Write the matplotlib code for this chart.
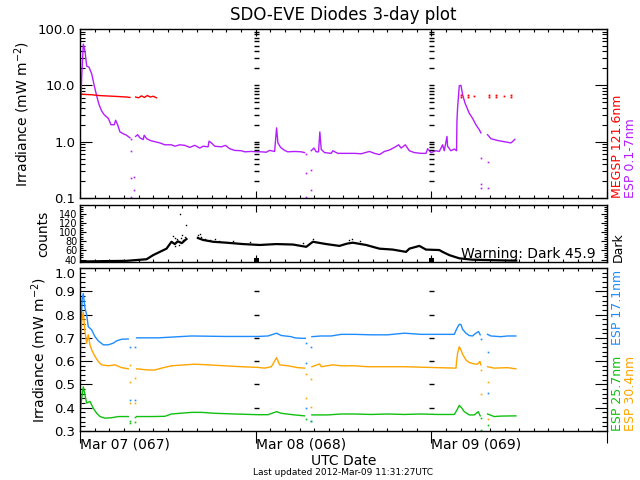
import numpy as np
import matplotlib
matplotlib.use('Agg')
import matplotlib.pyplot as plt
from matplotlib.ticker import FixedLocator, MultipleLocator, FuncFormatter, NullFormatter

nan = np.nan

# ---------------- data (time in hours since 2012-03-07 00:00 UTC) ----------------
# ESP 0.1-7nm (purple)
xr_t = [0, 0.23, 0.45, 0.68, 0.91, 1.23, 1.6, 1.95, 2.28, 2.59, 2.96, 3.31, 3.86, 4.23, 4.68, 4.87,
        5.14, 5.45, 5.9, 6.37, 6.82, 7.1, 7.6, 7.87, 8.18, 8.63, 8.77, 9.1, 9.68, 10.23, 10.91, 11.59,
        12.5, 12.95, 13.64, 14.32, 15.0, 15.68, 16.36, 16.81, 17.5, 17.63, 17.96, 18.41, 19.32, 19.87,
        20.45, 21.14, 22.05, 22.5, 23.41, 24.31, 24.78, 25.46, 25.91, 26.59, 26.86, 27.04, 27.41, 27.95,
        28.4, 29.32, 30.23, 30.68, 31.1, 31.59, 31.95, 32.28, 32.59, 32.77, 32.96, 33.41, 34.32, 34.54,
        35.22, 36.14, 37.5, 38.41, 39.55, 40.23, 40.91, 41.59, 42.27, 42.95, 43.54, 43.87, 44.45, 45.0,
        45.68, 46.59, 47.27, 47.5, 47.96, 48.64, 49.09, 49.54, 49.77, 50.14, 50.22, 50.68, 51.14, 51.45,
        51.5, 51.59, 51.82, 52.05, 52.27, 52.59, 53.18, 53.63, 54.09, 54.55, 54.78, 55.2, 55.68, 56.14,
        57.04, 57.95, 58.87, 59.09, 59.41]
xr_v = [1.43, 14, 54, 41, 22, 21, 16, 9.8, 6.5, 4.6, 3.5, 3.0, 2.6, 2.0, 2.0, 2.4,
        2.0, 1.5, 1.38, 1.3, 1.17, nan, 1.24, 1.33, 1.17, 1.09, 1.3, 1.13, 1.04, 1.0, 0.95, 0.88,
        0.88, 0.83, 0.88, 0.86, 0.79, 0.86, 0.77, 0.83, 0.81, 1.02, 0.95, 0.83, 0.81, 0.86,
        0.75, 0.70, 0.69, 0.66, 0.67, 0.66, 0.66, 0.65, 0.70, 0.67, 1.76, 0.95, 0.79, 0.70,
        0.66, 0.67, 0.66, 0.64, nan, 0.69, 0.77, 0.66, 0.66, 1.49, 0.73, 0.64, 0.62, 0.69,
        0.62, 0.62, 0.62, 0.61, 0.67, 0.62, 0.59, 0.67, 0.71, 0.79, 0.88, 0.77, 0.88, 0.69,
        0.64, 0.62, 0.62, 0.75, 0.64, 0.69, 0.67, 0.88, 0.69, 1.24, 0.83, 0.69, 0.74, 0.69,
        2.3, 4.0, 9.8, 10, 6.9, 4.9, 3.2, 2.6, 2.0, 1.63, 1.43, nan, 1.33, 1.13,
        1.05, 1.0, 0.95, 1.0, 1.1]
xr_out_t = [6.95, 6.95, 6.95, 6.95, 7.4, 7.4, 30.82, 30.82, 30.82, 31.5, 31.5, 54.78, 54.78, 54.78, 55.68, 55.68]
xr_out_v = [1.1, 0.68, 0.23, 0.105, 0.24, 0.14, 0.6, 0.28, 0.105, 0.32, 0.14, 0.51, 0.18, 0.15, 0.43, 0.15]

# MEGS-P 121.6nm (red)
lya_t = [0, 0.68, 1.6, 2.5, 3.41, 4.54, 5.45, 6.37, 6.82, 7.1, 7.6, 8.0, 8.4, 8.8, 9.2, 9.6, 10.0, 10.45]
lya_v = [7.0, 6.9, 6.8, 6.6, 6.5, 6.4, 6.3, 6.2, 6.1, nan, 6.2, 6.0, 6.5, 6.1, 6.6, 6.2, 6.4, 6.0]
lya_dot_t = [52.05, 52.05, 52.95, 52.95, 53.86, 55.91, 55.91, 56.9, 56.9, 57.95, 58.95, 58.95]
lya_dot_v = [6.2, 6.6, 6.2, 6.6, 6.4, 6.2, 6.6, 6.2, 6.6, 6.4, 6.2, 6.6]

# Dark counts (black)
dark_t = [0, 3.86, 6.37, 9.1, 10.0, 10.91, 11.82, 12.5, 12.95, 13.36, 13.91, 14.32, 14.55, 15.3,
          16.13, 16.81, 18.18, 20.0, 22.27, 24.55, 26.82, 29.09, 30.91, 31.82, 33.64, 35.45, 36.5,
          37.27, 39.09, 40.91, 42.73, 44.55, 45.0, 46.36, 47.27, 49.09, 49.54, 50.45, 51.82, 53.6,
          56.3, 59.0, 59.6]
dark_v = [36, 37, 37.5, 41, 50, 57, 64, 79, 74, 80, 76, 82, 85, nan,
          87, 83, 79, 77, 74, 72, 74, 73, 68, 79, 74, 70, 75,
          77, 72, 64, 62, 57, 64, 70, 62, 61, 57, 50, 43, 40,
          39, 38, 38]
dark_sc_t = [12.68, 12.95, 13.23, 13.64, 13.77, 14.09, 14.32, 14.55, 13.0, 13.5, 14.0, 16.13, 16.36,
             16.6, 17.05, 17.7, 18.5, 20.9, 23.2, 30.4, 31.8, 36.8, 37.2, 38.2, 16.0, 19.0]
dark_sc_v = [92, 70, 85, 140, 87, 83, 90, 115, 88, 72, 94, 93, 96,
             89, 85, 82, 84, 80, 78, 76, 84, 82, 86, 80, 90, 81]
dark_box_t = [24, 48]
dark_box_v = [39.5, 39.5]

# ESP 17.1nm (blue)
b_t = [0, 0.14, 0.31, 0.45, 0.68, 0.91, 1.13, 1.6, 2.05, 2.5, 3.18, 3.86, 4.54, 5.0, 5.69, 6.59, 7.0,
       7.73, 10.68, 15.23, 19.77, 24.31, 25.68, 26.86, 27.5, 28.87, 29.32, 30.23, 30.78, 31.1,
       31.68, 32.96, 34.32, 35.68, 37.5, 39.78, 42.04, 44.32, 46.59, 48.41, 51.14, 51.5, 51.82,
       52.05, 52.27, 52.73, 53.18, 53.63, 54.09, 54.45, 54.68, 55.2, 55.68, 56.14, 57.5, 58.4, 59.55]
b_v = [0.72, 0.763, 0.87, 0.89, 0.827, 0.80, 0.748, 0.734, 0.705, 0.687, 0.67, 0.67, 0.677, 0.687,
       0.694, 0.695, nan, 0.70, 0.70, 0.708, 0.706, 0.706, 0.708, 0.72, 0.71, 0.705, 0.70, 0.698,
       0.698, nan, 0.705, 0.708, 0.708, 0.715, 0.715, 0.713, 0.713, 0.72, 0.715, 0.715, 0.715,
       0.741, 0.758, 0.757, 0.737, 0.72, 0.71, 0.708, 0.72, 0.727, 0.713, nan, 0.715, 0.708,
       0.705, 0.708, 0.708]
b_out_t = [6.82, 6.82, 7.5, 7.5, 30.82, 30.82, 30.82, 31.59, 31.59, 54.78, 55.68, 55.68]
b_out_v = [0.66, 0.433, 0.66, 0.433, 0.677, 0.594, 0.398, 0.343, 0.66, 0.695, 0.638, 0.462]

# ESP 30.4nm (orange)
o_t = [0, 0.23, 0.45, 0.68, 0.91, 1.13, 1.36, 1.6, 2.05, 2.5, 2.96, 3.86, 4.77, 5.69, 6.59, 7.0,
       7.73, 9.31, 10.23, 11.14, 12.5, 14.32, 15.68, 17.5, 19.77, 22.05, 24.31, 25.23, 26.14, 26.86,
       27.27, 28.4, 29.77, 30.68, 31.1, 31.68, 32.73, 32.96, 34.54, 35.68, 37.5, 39.32, 42.04,
       44.32, 46.59, 48.86, 51.37, 51.45, 51.59, 51.82, 52.05, 52.27, 52.73, 53.18, 53.86, 54.31,
       54.64, 54.78, 55.2, 55.68, 56.59, 58.4, 59.55]
o_v = [0.57, 0.77, 0.81, 0.727, 0.677, 0.713, 0.67, 0.648, 0.62, 0.598, 0.584, 0.58, 0.584, 0.572,
       0.567, nan, 0.567, 0.562, 0.562, 0.57, 0.58, 0.584, 0.587, 0.584, 0.58, 0.576, 0.573, 0.57,
       0.576, 0.615, 0.584, 0.58, 0.572, 0.57, nan, 0.576, 0.588, 0.576, 0.584, 0.58, 0.58, 0.576,
       0.576, 0.576, 0.574, 0.572, 0.57, 0.598, 0.634, 0.662, 0.648, 0.63, 0.605, 0.594, 0.588,
       0.587, 0.598, 0.584, nan, 0.576, 0.57, 0.572, 0.567]
o_out_t = [6.82, 6.82, 6.82, 7.5, 7.5, 30.82, 30.82, 31.59, 31.59, 54.78, 54.78, 55.68, 55.68]
o_out_v = [0.584, 0.512, 0.42, 0.527, 0.42, 0.545, 0.443, 0.524, 0.405, 0.562, 0.458, 0.509, 0.352]

# ESP 25.7nm (green)
g_t = [0, 0.23, 0.45, 0.68, 0.91, 1.36, 1.81, 2.28, 2.73, 3.41, 4.32, 5.22, 6.59, 7.0, 7.73, 9.78,
       11.59, 12.5, 15.23, 16.59, 18.41, 21.14, 24.31, 25.68, 26.86, 27.5, 29.32, 30.68, 31.1,
       31.68, 33.86, 35.68, 37.5, 39.78, 42.04, 44.32, 46.59, 48.86, 51.14, 51.5, 51.82, 52.13,
       52.5, 53.18, 53.86, 54.41, 54.68, 55.2, 55.68, 56.59, 57.5, 59.55]
g_v = [0.369, 0.44, 0.49, 0.455, 0.42, 0.427, 0.398, 0.376, 0.362, 0.355, 0.357, 0.362, 0.362, nan,
       0.362, 0.362, 0.363, 0.373, 0.38, 0.38, 0.376, 0.373, 0.37, 0.37, 0.383, 0.376, 0.369, 0.365,
       nan, 0.369, 0.369, 0.373, 0.373, 0.371, 0.373, 0.371, 0.373, 0.371, 0.371, 0.39, 0.41, 0.40,
       0.383, 0.369, 0.369, 0.383, 0.365, nan, 0.373, 0.362, 0.364, 0.365]
g_out_t = [6.82, 6.82, 7.5, 7.5, 30.82, 31.59, 54.78, 54.78, 55.68]
g_out_v = [0.335, 0.345, 0.34, 0.36, 0.352, 0.343, 0.305, 0.355, 0.326]

day_labels = ["Mar 07 (067)", "Mar 08 (068)", "Mar 09 (069)", ""]
irr_ticks = [0.3, 0.4, 0.5, 0.6, 0.7, 0.8, 0.9, 1.0]
dark_ticks = [40, 60, 80, 100, 120, 140]

C_PURPLE = '#b41eff'
C_RED = '#ff0000'
C_BLUE = '#1e8cff'
C_ORANGE = '#ffa500'
C_GREEN = '#10c010'

plt.rcParams['font.family'] = ['DejaVu Sans']
plt.rcParams['font.size'] = 9.5

fig = plt.figure(figsize=(6.4, 4.8), dpi=100)
L, W = 0.125, 0.8234
ax1 = fig.add_axes([L, 0.5875, W, 0.3521])
ax2 = fig.add_axes([L, 0.4542, W, 0.1187])
ax3 = fig.add_axes([L, 0.1021, W, 0.3396])

for ax in (ax1, ax2, ax3):
    ax.set_xlim(0, 72)
    ax.xaxis.set_major_locator(FixedLocator([0, 24, 48, 72]))
    ax.xaxis.set_minor_locator(MultipleLocator(2))
    for s in ax.spines.values():
        s.set_linewidth(1.0)
    ax.tick_params(axis='both', which='both', direction='in', left=True, right=True,
                   top=True, bottom=True, width=0.8)
    ax.tick_params(axis='x', which='minor', length=2.5)
    ax.tick_params(axis='x', which='major', length=5)

# ---- top panel ----
ax1.set_yscale('log')
ax1.plot(xr_t, xr_v, color=C_PURPLE, lw=1.0)
ax1.plot(xr_out_t, xr_out_v, ls='none', marker='s', ms=1.2, color=C_PURPLE, mew=0)
ax1.plot(lya_t, lya_v, color=C_RED, lw=1.0)
ax1.plot(lya_dot_t, lya_dot_v, ls='none', marker='s', ms=1.3, color=C_RED, mew=0)
ax1.set_ylim(0.1, 100)
ax1.yaxis.set_major_locator(FixedLocator([0.1, 1, 10, 100]))
ax1.yaxis.set_major_formatter(FuncFormatter(lambda v, p: '%.1f' % v))
minor_log = [k * 10.0 ** e for e in (-1, 0, 1) for k in range(2, 10)]
ax1.yaxis.set_minor_locator(FixedLocator(minor_log))
ax1.yaxis.set_minor_formatter(NullFormatter())
ax1.tick_params(axis='y', which='major', length=8.5)
ax1.tick_params(axis='y', which='minor', length=3.6)
ax1.tick_params(axis='x', labelbottom=False)
ax1.set_ylabel('Irradiance (mW m$^{-2}$)', fontsize=10, labelpad=4)
dash_vals = [v for v in minor_log] + [1, 10]
for d in (24, 48):
    ax1.plot([d] * len(dash_vals), dash_vals, ls='none', marker='_', ms=3.6, mew=1.0, color='k')

# ---- middle panel ----
ax2.plot(dark_t, dark_v, color='k', lw=1.6)
ax2.plot(dark_sc_t, dark_sc_v, ls='none', marker='s', ms=1.0, color='k', mew=0)
ax2.plot(dark_box_t, dark_box_v, ls='none', marker='s', ms=3.6, color='k', mew=0)
ax2.set_ylim(35, 159)
ax2.yaxis.set_major_locator(FixedLocator(dark_ticks))
ax2.yaxis.set_minor_locator(MultipleLocator(5))
ax2.tick_params(axis='y', which='major', length=4.5, labelsize=7, pad=2)
ax2.tick_params(axis='y', which='minor', length=2.2)
ax2.tick_params(axis='x', labelbottom=False)
ax2.set_ylabel('counts', fontsize=10, labelpad=6)
ax2.text(52.1, 37.5, 'Warning: Dark 45.9', fontsize=10, ha='left', va='bottom')

# ---- bottom panel ----
ax3.plot(b_t, b_v, color=C_BLUE, lw=1.0)
ax3.plot(b_out_t, b_out_v, ls='none', marker='s', ms=1.2, color=C_BLUE, mew=0)
ax3.plot(o_t, o_v, color=C_ORANGE, lw=1.0)
ax3.plot(o_out_t, o_out_v, ls='none', marker='s', ms=1.2, color=C_ORANGE, mew=0)
ax3.plot(g_t, g_v, color=C_GREEN, lw=1.0)
ax3.plot(g_out_t, g_out_v, ls='none', marker='s', ms=1.2, color=C_GREEN, mew=0)
ax3.set_ylim(0.3, 1.0)
ax3.yaxis.set_major_locator(FixedLocator(irr_ticks))
ax3.yaxis.set_major_formatter(FuncFormatter(lambda v, p: '%.1f' % v))
ax3.yaxis.set_minor_locator(MultipleLocator(0.02))
ax3.tick_params(axis='y', which='major', length=8.5)
ax3.tick_params(axis='y', which='minor', length=3.6)
ax3.tick_params(axis='x', which='major', direction='out', length=8.6, top=False, pad=-4,
                labelsize=10)
ax3.set_xticklabels(day_labels)
for lbl in ax3.get_xticklabels():
    lbl.set_ha('left')
    lbl.set_va('top')
ax3.yaxis.get_major_ticks()[-1].label1.set_va('top')
ax3.set_ylabel('Irradiance (mW m$^{-2}$)', fontsize=10, labelpad=4)
for d in (24, 48):
    vals = irr_ticks[1:-1]
    ax3.plot([d] * len(vals), vals, ls='none', marker='_', ms=3.6, mew=1.0, color='k')

# ---- texts ----
fig.text(0.5367, 0.969, 'SDO-EVE Diodes 3-day plot', ha='center', va='center', fontsize=12)
fig.text(0.5367, 0.0396, 'UTC Date', ha='center', va='center', fontsize=10)
fig.text(0.5367, 0.0146, 'Last updated 2012-Mar-09 11:31:27UTC', ha='center', va='center',
         fontsize=6.5)
fig.text(0.9648, 0.5875, 'MEGSP 121.6nm', rotation=90, ha='center', va='bottom', color=C_RED, fontsize=9)
fig.text(0.9852, 0.5875, 'ESP 0.1-7nm', rotation=90, ha='center', va='bottom', color=C_PURPLE, fontsize=9)
fig.text(0.9656, 0.4542, 'Dark', rotation=90, ha='center', va='bottom', color='k', fontsize=9)
fig.text(0.9656, 0.4375, 'ESP 17.1nm', rotation=90, ha='center', va='top', color=C_BLUE, fontsize=9)
fig.text(0.9656, 0.1021, 'ESP 25.7nm', rotation=90, ha='center', va='bottom', color=C_GREEN, fontsize=9)
fig.text(0.9852, 0.1021, 'ESP 30.4nm', rotation=90, ha='center', va='bottom', color=C_ORANGE, fontsize=9)

fig.savefig('out.png', dpi=100)
